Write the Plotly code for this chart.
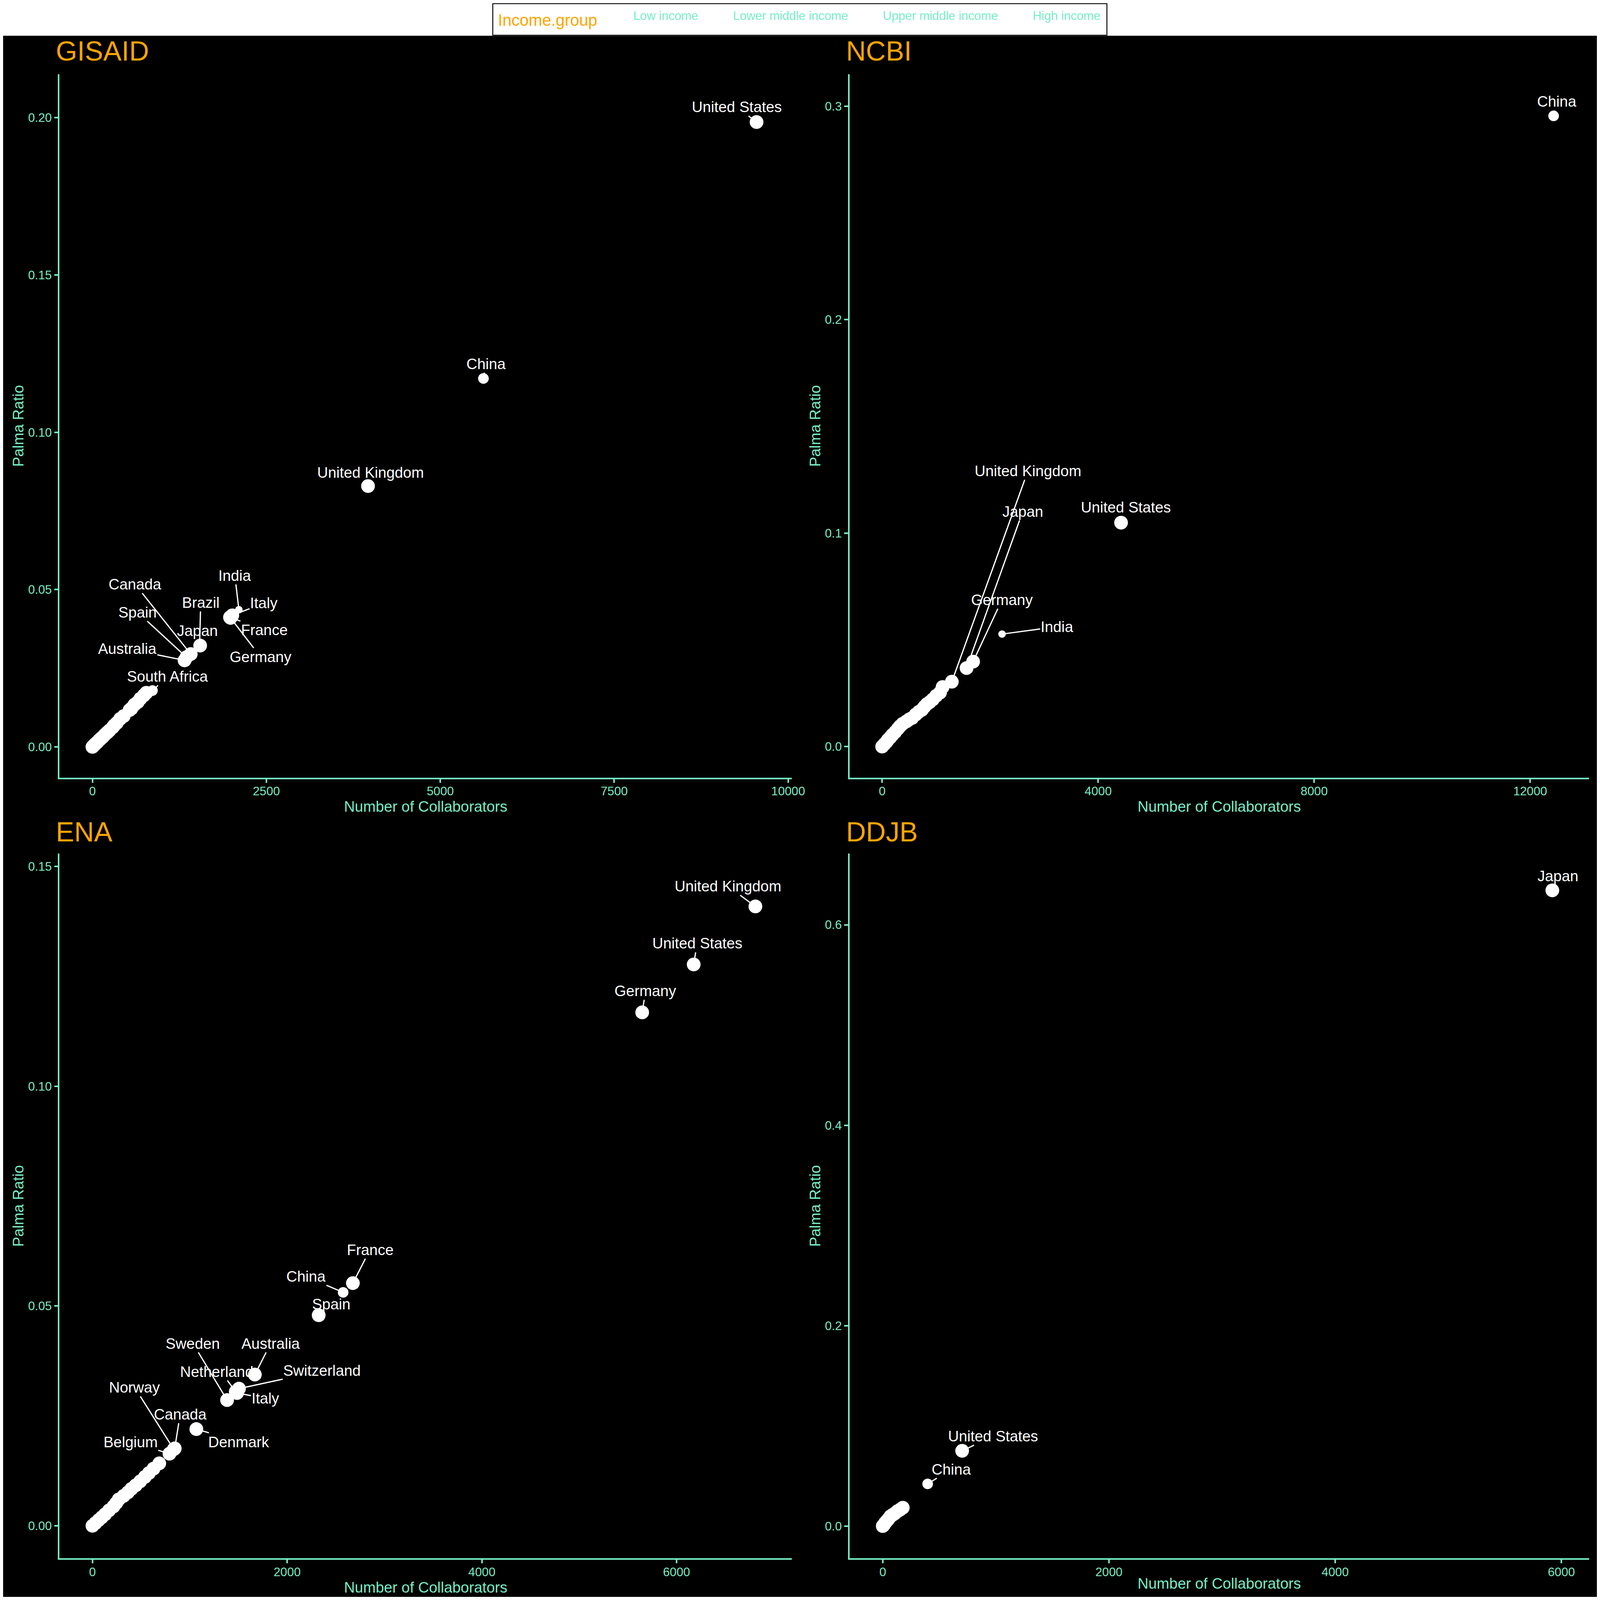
import plotly.graph_objects as go

# ---------------- data ----------------
GROUPS = ["Low income", "Lower middle income", "Upper middle income", "High income"]
HI, UM, LM = "High income", "Upper middle income", "Lower middle income"

# GISAID
gisaid_country = ["United States", "China", "United Kingdom", "India", "Italy", "France", "Germany",
                  "Brazil", "Japan", "Canada", "Spain", "Australia", "South Africa"]
gisaid_collab = [9546, 5620, 3961, 2105, 2010, 1977, 1985, 1540, 1548, 1413, 1351, 1324, 863]
gisaid_palma = [0.1986, 0.1171, 0.0829, 0.0436, 0.0418, 0.0412, 0.0410, 0.0320, 0.0322, 0.0295,
                0.0285, 0.0275, 0.0179]
gisaid_income = [HI, UM, HI, LM, HI, HI, HI, UM, HI, HI, HI, HI, UM]
gisaid_rest_collab = [0, 15, 30, 50, 70, 95, 120, 150, 180, 215, 244, 290, 312, 350, 398, 450,
                      534, 560, 603, 650, 688, 740, 774]
gisaid_rest_palma = [0.0, 0.0003, 0.0007, 0.0011, 0.0015, 0.0021, 0.0026, 0.0032, 0.0039, 0.0046,
                     0.0052, 0.0062, 0.0068, 0.0076, 0.0089, 0.0098, 0.0117, 0.0122, 0.0134,
                     0.0142, 0.0153, 0.0164, 0.0172]

# NCBI
ncbi_country = ["China", "United States", "India", "Germany", "Japan", "United Kingdom"]
ncbi_collab = [12434, 4424, 2220, 1684, 1563, 1290]
ncbi_palma = [0.2955, 0.1049, 0.0527, 0.0398, 0.0368, 0.0304]
ncbi_income = [UM, HI, LM, HI, HI, HI]
ncbi_rest_collab = [0, 40, 80, 108, 150, 189, 240, 290, 329, 380, 450, 500, 554, 620, 680, 735,
                    780, 828, 880, 937, 1000, 1071, 1119]
ncbi_rest_palma = [0.0, 0.0011, 0.0022, 0.0032, 0.0043, 0.0055, 0.0068, 0.0083, 0.0095, 0.0107,
                   0.0118, 0.0127, 0.0134, 0.0150, 0.0163, 0.0172, 0.0186, 0.0199, 0.0208,
                   0.0221, 0.0238, 0.0253, 0.0279]

# ENA
ena_country = ["United Kingdom", "United States", "Germany", "France", "China", "Spain", "Australia",
               "Switzerland", "Netherlands", "Italy", "Sweden", "Denmark", "Canada", "Norway", "Belgium"]
ena_collab = [6810, 6176, 5647, 2675, 2575, 2324, 1668, 1505, 1472, 1485, 1383, 1067, 845, 835, 791]
ena_palma = [0.1409, 0.1277, 0.1168, 0.0552, 0.0531, 0.0479, 0.0344, 0.0312, 0.0305, 0.0302,
             0.0286, 0.0220, 0.0176, 0.0174, 0.0164]
ena_income = [HI, HI, HI, HI, UM, HI, HI, HI, HI, HI, HI, HI, HI, HI, HI]
ena_rest_collab = [0, 30, 64, 95, 129, 170, 216, 245, 270, 320, 364, 400, 444, 490, 538, 580,
                   627, 686]
ena_rest_palma = [0.0, 0.0006, 0.0013, 0.0019, 0.0026, 0.0035, 0.0044, 0.0052, 0.0060, 0.0068,
                  0.0076, 0.0084, 0.0092, 0.0101, 0.0111, 0.0120, 0.0130, 0.0142]

# DDJB
ddjb_country = ["Japan", "United States", "China"]
ddjb_collab = [5920, 702, 397]
ddjb_palma = [0.6344, 0.0751, 0.0421]
ddjb_income = [HI, HI, UM]
ddjb_rest_collab = [0, 10, 20, 35, 50, 67, 85, 105, 131, 155, 177]
ddjb_rest_palma = [0.0, 0.0012, 0.0030, 0.0050, 0.0070, 0.0096, 0.0110, 0.0125, 0.0149, 0.0165,
                   0.0183]

# ---------------- style ----------------
# layout measured on the 5120x5760 reference; the page fills the window, fonts in css px
S = 0.8
REF_W, REF_H = 5120, 5760
AQUA = "#76EEC6"
ORANGE = "#FFA500"
FONT = "Liberation Sans, Arial, sans-serif"
SIZE = {"Low income": 18 * S, "Lower middle income": 24 * S, "Upper middle income": 34 * S,
        "High income": 44 * S}

# where each repelled label sits (data units), same order as the country lists
label_pos = {
    "GISAID": [(9260, 0.2034), (5658, 0.1218), (3997, 0.0872), (2047, 0.0545), (2466, 0.0457),
               (2470, 0.0372), (2417, 0.0286), (1556, 0.0459), (1512, 0.0369), (613, 0.0517),
               (648, 0.0428), (504, 0.0312), (1082, 0.0224)],
    "NCBI": [(12497, 0.3022), (4510, 0.1121), (3241, 0.0562), (2220, 0.0688), (2604, 0.1102),
             (2700, 0.1292)],
    "ENA": [(6528, 0.1455), (6211, 0.1325), (5682, 0.1217), (2851, 0.0628), (2195, 0.0567),
            (2451, 0.0504), (1831, 0.0415), (2358, 0.0353), (1317, 0.0351), (1777, 0.0290),
            (1032, 0.0415), (1505, 0.0191), (901, 0.0254), (433, 0.0315), (391, 0.0191)],
    "DDJB": [(5970, 0.6486), (976, 0.0897), (605, 0.0568)],
}

def px_x(p):
    return p / REF_W

def px_y(p):
    return 1 - p / REF_H

panels = [
    dict(name="GISAID", country=gisaid_country, x=gisaid_collab, y=gisaid_palma, inc=gisaid_income,
         rx=gisaid_rest_collab, ry=gisaid_rest_palma,
         xdom=[px_x(181), px_x(2534)], ydom=[px_y(2799), px_y(257)],
         xr=[-474, 10054], yr=[-0.00976, 0.2138], dx=2500, dy=0.05, yfmt=".2f"),
    dict(name="NCBI", country=ncbi_country, x=ncbi_collab, y=ncbi_palma, inc=ncbi_income,
         rx=ncbi_rest_collab, ry=ncbi_rest_palma,
         xdom=[px_x(2719), px_x(5095)], ydom=[px_y(2799), px_y(257)],
         xr=[-605, 13091], yr=[-0.01453, 0.3150], dx=4000, dy=0.1, yfmt=".1f"),
    dict(name="ENA", country=ena_country, x=ena_collab, y=ena_palma, inc=ena_income,
         rx=ena_rest_collab, ry=ena_rest_palma,
         xdom=[px_x(181), px_x(2534)], ydom=[px_y(5620), px_y(3074)],
         xr=[-339, 7185], yr=[-0.00736, 0.1529], dx=2000, dy=0.05, yfmt=".2f"),
    dict(name="DDJB", country=ddjb_country, x=ddjb_collab, y=ddjb_palma, inc=ddjb_income,
         rx=ddjb_rest_collab, ry=ddjb_rest_palma,
         xdom=[px_x(2719), px_x(5095)], ydom=[px_y(5620), px_y(3074)],
         xr=[-294, 6245], yr=[-0.032, 0.671], dx=2000, dy=0.2, yfmt=".1f"),
]

fig = go.Figure()
annotations = []
layout_axes = {}

for i, p in enumerate(panels):
    n = "" if i == 0 else str(i + 1)
    xref, yref = "x" + n, "y" + n

    # points, one trace per income group (unlabelled countries drawn with the high-income group)
    for rank, g in enumerate(GROUPS):
        xs = [xv for xv, gv in zip(p["x"], p["inc"]) if gv == g]
        ys = [yv for yv, gv in zip(p["y"], p["inc"]) if gv == g]
        names = [c for c, gv in zip(p["country"], p["inc"]) if gv == g]
        if g == HI:
            xs = p["rx"] + xs
            ys = p["ry"] + ys
            names = [""] * len(p["rx"]) + names
        if not xs:
            xs, ys, names = [None], [None], [""]
        fig.add_trace(go.Scatter(
            x=xs, y=ys, text=names, mode="markers", name=g, legendgroup=g,
            legendrank=rank + 1, showlegend=(i == 0),
            marker=dict(color="white", size=SIZE[g], line=dict(width=0)),
            xaxis=xref, yaxis=yref,
        ))

    # repelled labels with segments
    for c, xv, yv, (lx, ly) in zip(p["country"], p["x"], p["y"], label_pos[p["name"]]):
        annotations.append(dict(
            x=xv, y=yv, xref=xref, yref=yref, ax=lx, ay=ly, axref=xref, ayref=yref,
            text=c, showarrow=True, arrowhead=0, arrowwidth=4 * S, arrowcolor="white",
            standoff=0, font=dict(size=48 * S, color="white", family=FONT),
        ))

    # panel title
    annotations.append(dict(
        text=p["name"], xref="paper", yref="paper",
        x=p["xdom"][0] - 14 / REF_W, y=px_y(173) if i < 2 else px_y(2995),
        xanchor="left", yanchor="middle", showarrow=False,
        font=dict(size=88 * S, color=ORANGE, family=FONT),
    ))

    common = dict(showline=True, linecolor=AQUA, linewidth=4.5 * S, ticks="outside",
                  ticklen=12 * S, tickwidth=4.5 * S, tickcolor=AQUA, showgrid=False,
                  zeroline=False, tickfont=dict(size=39 * S, color=AQUA, family=FONT),
                  automargin=False)
    layout_axes["xaxis" + n] = dict(
        common, domain=p["xdom"], range=p["xr"], dtick=p["dx"], tick0=0, tickformat="d",
        anchor=yref, ticklabelstandoff=-5,
        title=dict(text="Number of Collaborators",
                   font=dict(size=48 * S, color=AQUA, family=FONT), standoff=0),
    )
    layout_axes["yaxis" + n] = dict(
        common, domain=p["ydom"], range=p["yr"], dtick=p["dy"], tick0=0, tickformat=p["yfmt"],
        anchor=xref,
        title=dict(text="Palma Ratio", font=dict(size=48 * S, color=AQUA, family=FONT),
                   standoff=0),
    )

fig.update_layout(
    autosize=True,
    margin=dict(l=0, r=0, t=0, b=0),
    paper_bgcolor="black", plot_bgcolor="black",
    font=dict(family=FONT, color=AQUA),
    annotations=annotations,
    shapes=[
        dict(type="rect", xref="paper", yref="paper", x0=0, x1=1, y0=px_y(118), y1=1,
             fillcolor="white", line=dict(width=0), layer="below"),
        dict(type="rect", xref="paper", yref="paper", x0=px_x(1573), x1=px_x(3546),
             y0=px_y(116), y1=px_y(2), fillcolor="white",
             line=dict(color="black", width=3 * S), layer="below"),
    ],
    legend=dict(
        orientation="h", x=px_x(1587), xanchor="left", y=px_y(52), yanchor="middle",
        bgcolor="rgba(0,0,0,0)", borderwidth=0, itemwidth=74,
        font=dict(size=39 * S, color=AQUA, family=FONT),
        title=dict(text="Income.group", side="left",
                   font=dict(size=52 * S, color=ORANGE, family=FONT)),
    ),
    **layout_axes,
)

fig.write_html("out.html")
